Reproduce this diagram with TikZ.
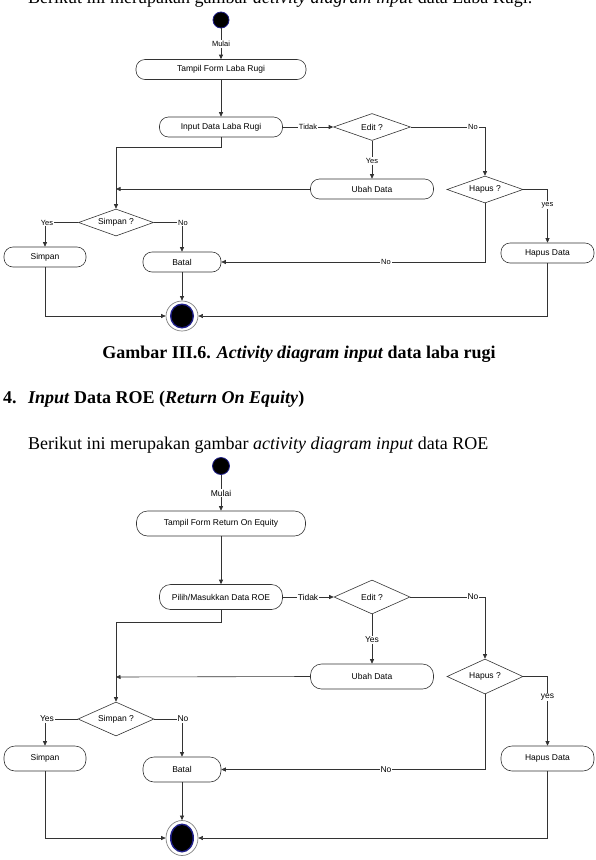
\documentclass[tikz,border=0pt]{standalone}
\usepackage{fontspec}
\setmainfont{Liberation Serif}
\newfontfamily\arialf{Liberation Sans}
\usetikzlibrary{arrows.meta,shapes.geometric,calc}
\definecolor{ln}{HTML}{333333}
\definecolor{navyc}{HTML}{20208A}
\begin{document}
\begin{tikzpicture}[x=1pt,y=-1pt,
  tip/.style={-{Triangle[length=4.5pt,width=4pt]}},
  conn/.style={draw=ln, line width=0.6pt},
  act/.style={draw=ln, line width=0.6pt, rounded corners=9pt, inner sep=0pt, minimum height=20pt, font=\arialf\fontsize{8.5}{10}\selectfont},
  actb/.style={act, rounded corners=11pt, minimum height=25pt},
  dec/.style={diamond, shape aspect=2.8, draw=ln, line width=0.6pt, inner sep=0pt, font=\arialf\fontsize{8.5}{10}\selectfont},
  lbl/.style={fill=white, inner sep=0.8pt, font=\arialf\fontsize{7.5}{9}\selectfont},
  lblb/.style={lbl, font=\arialf\fontsize{8.5}{10}\selectfont},
  startc/.style={circle, fill=black, draw=navyc, line width=0.8pt, inner sep=0pt},
  endc/.style={ellipse, draw=gray, fill=white, line width=0.7pt, inner sep=0pt},
  body/.style={inner sep=0pt, font=\fontsize{18}{22}\selectfont}]
\useasboundingbox (0,0) rectangle (595,860);

% ---------- texts ----------
\node[body, anchor=base west] (top) at (28,3) {Berikut ini merupakan gambar \textit{activity diagram input} data Laba Rugi.};
\node[body, anchor=base] (cap) at (299,358) {\textbf{Gambar III.6. \textit{Activity diagram input} data laba rugi}};
\node[body, anchor=base west] (num) at (3,403) {\textbf{4.}};
\node[body, anchor=base west] (head) at (28,403) {\textbf{\textit{Input} Data ROE (\textit{Return On Equity})}};
\node[body, anchor=base west] (intro) at (28,449) {Berikut ini merupakan gambar \textit{activity diagram input} data ROE};

% ---------- diagram 1 ----------
\node[startc, minimum size=16pt] (s1) at (221,20) {};
\node[lbl] (m1) at (221,44) {Mulai};
\node[act, minimum width=170pt] (t1) at (221,69.5) {Tampil Form Laba Rugi};
\node[act, minimum width=123pt] (i1) at (221,127) {Input Data Laba Rugi};
\node[lbl] (td1) at (308,127) {Tidak};
\node[dec, minimum width=77pt, minimum height=27pt] (e1) at (372,127) {Edit ?};
\node[lbl] (n1) at (473,127) {No};
\node[lbl] (y1) at (372,161) {Yes};
\node[act, minimum width=123pt] (u1) at (372,189) {Ubah Data};
\node[dec, minimum width=76pt, minimum height=27pt] (h1) at (485,189.5) {Hapus ?};
\node[lbl] (yy1) at (547.5,205) {yes};
\node[act, minimum width=93pt] (hd1) at (547.5,253) {Hapus Data};
\node[dec, minimum width=75pt, minimum height=27pt] (sp1) at (116,222.5) {Simpan ?};
\node[lbl] (ys1) at (47,222.5) {Yes};
\node[lbl] (no1) at (183,222.5) {No};
\node[act, minimum width=82pt] (sb1) at (45,257) {Simpan};
\node[act, minimum width=78pt] (b1) at (182,262) {Batal};
\node[lbl] (nn1) at (386,262) {No};
\node[endc, minimum width=32pt, minimum height=30pt] (f1) at (182,316) {};
\fill[navyc] (f1.center) ellipse [x radius=12pt, y radius=12.5pt];
\fill[black] (f1.center) ellipse [x radius=10.5pt, y radius=11pt];
\coordinate (j1) at (116,189);

\draw[conn] (s1) -- (m1);
\draw[conn,tip] (m1) -- (t1);
\draw[conn,tip] (t1) -- (i1);
\draw[conn] (i1.east) -- (td1.west);
\draw[conn,tip] (td1.east) -- (e1.west);
\draw[conn] (e1.east) -- (n1.west);
\draw[conn,tip] (n1.east) -| (h1.north);
\draw[conn] (e1.south) -- (y1.north);
\draw[conn,tip] (y1.south) -- (u1.north);
\draw[conn,tip] (u1.west) -- (j1);
\draw[conn,tip] (i1.south) -- ++(0,10) -| (sp1.north);
\draw[conn] (sp1.west) -- (ys1.east);
\draw[conn,tip] (ys1.south -| sb1.north) -- (sb1.north);
\draw[conn] (sp1.east) -- (no1.west);
\draw[conn,tip] (no1.south -| b1.north) -- (b1.north);
\draw[conn] (h1.east) -| (yy1.north);
\draw[conn,tip] (yy1.south) -- (hd1.north);
\draw[conn] (h1.south) |- (nn1.east);
\draw[conn,tip] (nn1.west) -- (b1.east);
\draw[conn,tip] (b1.south) -- (f1.north);
\draw[conn,tip] (sb1.south) |- (f1.west);
\draw[conn,tip] (hd1.south) |- (f1.east);

% ---------- diagram 2 ----------
\node[startc, minimum size=17pt] (s2) at (221,466) {};
\node[lblb] (m2) at (221,493) {Mulai};
\node[actb, minimum width=169pt] (t2) at (221,523.5) {Tampil Form Return On Equity};
\node[actb, minimum width=123pt] (i2) at (221,597) {Pilih/Masukkan Data ROE};
\node[lblb] (td2) at (308,597) {Tidak};
\node[dec, minimum width=76pt, minimum height=34pt] (e2) at (372,597) {Edit ?};
\node[lblb] (n2) at (473,597) {No};
\node[lblb] (y2) at (372,640) {Yes};
\node[actb, minimum width=123pt] (u2) at (372,676.5) {Ubah Data};
\node[dec, minimum width=76pt, minimum height=35pt] (h2) at (485,676.5) {Hapus ?};
\node[lblb] (yy2) at (547.5,697) {yes};
\node[actb, minimum width=93pt] (hd2) at (547.5,758.5) {Hapus Data};
\node[dec, minimum width=76pt, minimum height=34pt] (sp2) at (116,719) {Simpan ?};
\node[lblb] (ys2) at (47,719) {Yes};
\node[lblb] (no2) at (183,719) {No};
\node[actb, minimum width=82pt] (sb2) at (45,758.5) {Simpan};
\node[actb, minimum width=78pt] (b2) at (182,769.5) {Batal};
\node[lblb] (nn2) at (386,769.5) {No};
\node[endc, minimum width=32pt, minimum height=35pt] (f2) at (182,838) {};
\fill[navyc] (f2.center) ellipse [x radius=12pt, y radius=14.5pt];
\fill[black] (f2.center) ellipse [x radius=10.5pt, y radius=13pt];
\coordinate (j2) at (116,677);

\draw[conn] (s2) -- (m2);
\draw[conn,tip] (m2) -- (t2);
\draw[conn,tip] (t2) -- (i2);
\draw[conn] (i2.east) -- (td2.west);
\draw[conn,tip] (td2.east) -- (e2.west);
\draw[conn] (e2.east) -- (n2.west);
\draw[conn,tip] (n2.east) -| (h2.north);
\draw[conn] (e2.south) -- (y2.north);
\draw[conn,tip] (y2.south) -- (u2.north);
\draw[conn,tip] (u2.west) -- (j2);
\draw[conn,tip] (i2.south) -- ++(0,12) -| (sp2.north);
\draw[conn] (sp2.west) -- (ys2.east);
\draw[conn,tip] (ys2.south -| sb2.north) -- (sb2.north);
\draw[conn] (sp2.east) -- (no2.west);
\draw[conn,tip] (no2.south -| b2.north) -- (b2.north);
\draw[conn] (h2.east) -| (yy2.north);
\draw[conn,tip] (yy2.south) -- (hd2.north);
\draw[conn] (h2.south) |- (nn2.east);
\draw[conn,tip] (nn2.west) -- (b2.east);
\draw[conn,tip] (b2.south) -- (f2.north);
\draw[conn,tip] (sb2.south) |- (f2.west);
\draw[conn,tip] (hd2.south) |- (f2.east);
\end{tikzpicture}
\end{document}
